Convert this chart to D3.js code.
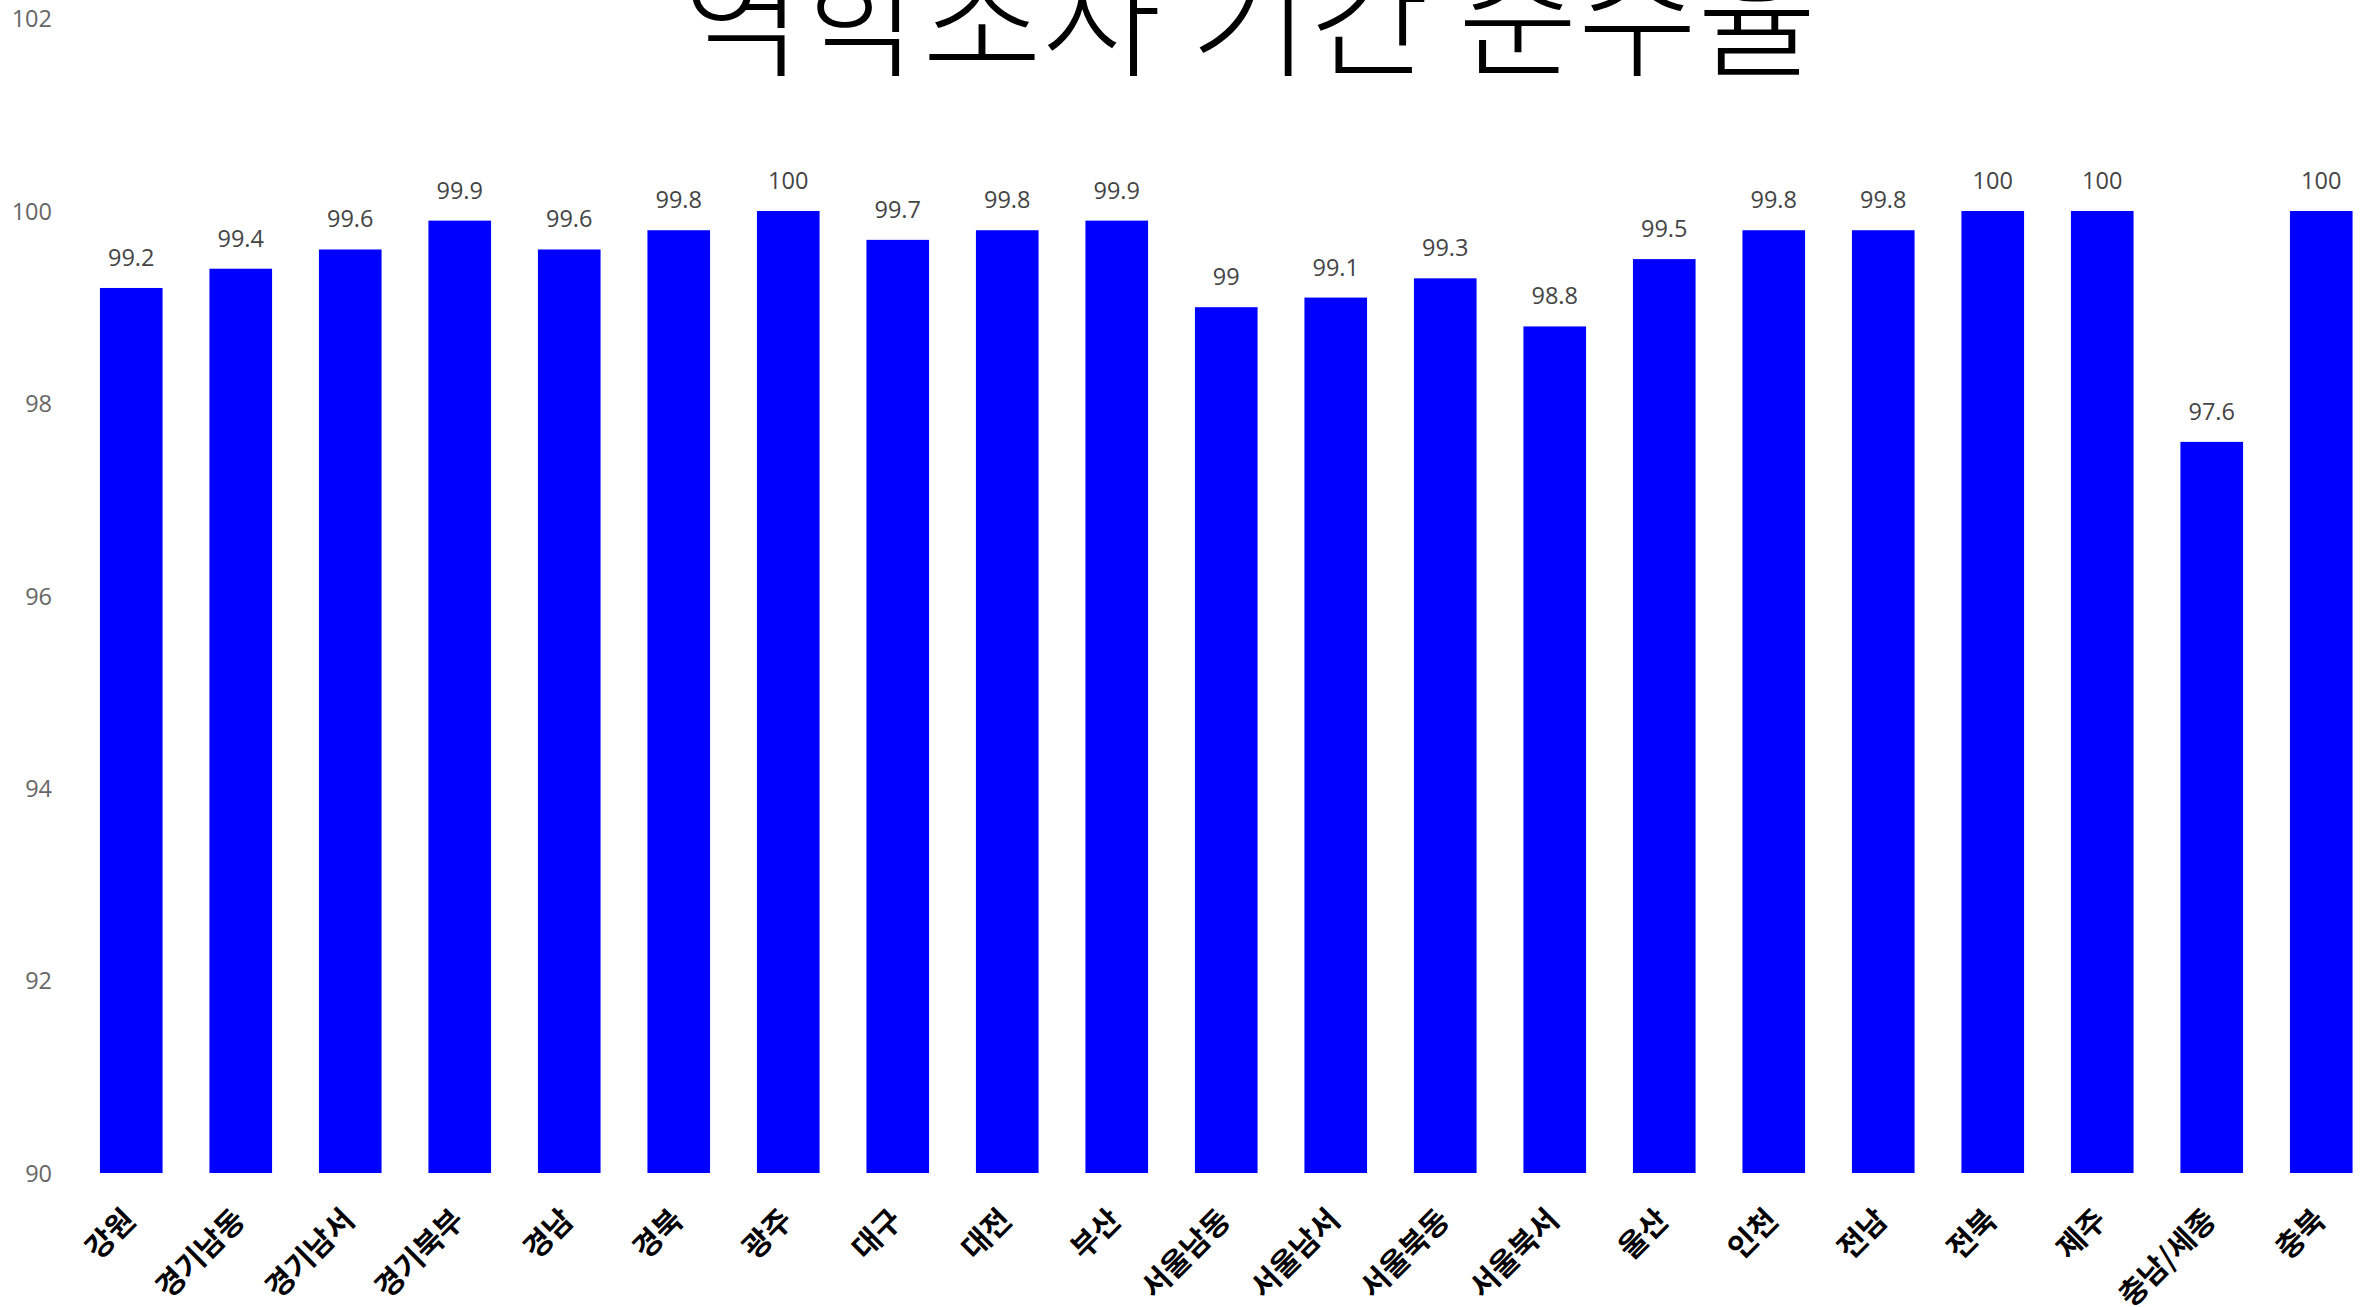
<!DOCTYPE html>
<html>
<head>
<meta charset="utf-8">
<script src="https://cdn.jsdelivr.net/npm/d3@7"></script>
<style>
  html, body { margin: 0; padding: 0; background: #ffffff; overflow: hidden; }
  svg { display: block; }
</style>
</head>
<body>
<svg id="chart" width="2376" height="1307"></svg>
<script>
const titleText = "역학조사 기간 준수율";
const categories = ["강원","경기남동","경기남서","경기북부","경남","경북","광주","대구","대전","부산","서울남동","서울남서","서울북동","서울북서","울산","인천","전남","전북","제주","충남/세종","충북"];
const values = [99.2, 99.4, 99.6, 99.9, 99.6, 99.8, 100, 99.7, 99.8, 99.9, 99, 99.1, 99.3, 98.8, 99.5, 99.8, 99.8, 100, 100, 97.6, 100];
const yTicks = [90, 92, 94, 96, 98, 100, 102];
const yDomain = [90, 102];

const svg = d3.select("#chart");
const plot = { left: 76.5, right: 2376, top: 18.6, bottom: 1173 };

const x = d3.scaleBand()
  .domain(categories)
  .range([plot.left, plot.right])
  .paddingInner(0.428)
  .paddingOuter(0.214);

const y = d3.scaleLinear()
  .domain(yDomain)
  .range([plot.bottom, plot.top]);

const data = categories.map((c, i) => ({ cat: c, val: values[i] }));

// Y axis (labels only)
const yAxis = d3.axisLeft(y).tickValues(yTicks).tickSize(0).tickPadding(0).tickFormat(d3.format("d"));
const gy = svg.append("g").attr("transform", "translate(52,0)").call(yAxis);
gy.select(".domain").remove();
gy.selectAll("text")
  .attr("fill", "#666666")
  .attr("font-family", "'Open Sans', 'Noto Sans', sans-serif")
  .attr("font-size", 23.5)
  .attr("dy", "0.35em");

// Bars
svg.append("g").selectAll("rect")
  .data(data)
  .join("rect")
  .attr("x", d => x(d.cat))
  .attr("y", d => y(d.val))
  .attr("width", x.bandwidth())
  .attr("height", d => y(yDomain[0]) - y(d.val))
  .attr("fill", "#0000ff");

// Value labels
svg.append("g").selectAll("text")
  .data(data)
  .join("text")
  .attr("x", d => x(d.cat) + x.bandwidth() / 2)
  .attr("y", d => y(d.val) - 22)
  .attr("text-anchor", "middle")
  .attr("fill", "#444444")
  .attr("font-family", "'Open Sans', 'Noto Sans', sans-serif")
  .attr("font-size", 23.5)
  .text(d => String(d.val));

// X axis (labels only, rotated)
const xAxis = d3.axisBottom(x).tickSize(0).tickPadding(0);
const gx = svg.append("g").attr("transform", `translate(0,${plot.bottom})`).call(xAxis);
gx.select(".domain").remove();
gx.selectAll(".tick text")
  .attr("fill", "#000000")
  .attr("font-family", "'Noto Sans CJK KR', 'Noto Sans', sans-serif")
  .attr("font-weight", "bold")
  .attr("font-size", 30)
  .attr("text-anchor", "end")
  .attr("dy", null)
  .attr("y", 0)
  .attr("transform", "translate(6,49) rotate(-45)");

// Title
svg.append("text")
  .attr("x", 1250)
  .attr("y", 66)
  .attr("text-anchor", "middle")
  .attr("fill", "#000000")
  .attr("font-family", "'Noto Sans CJK KR', sans-serif")
  .attr("font-weight", 300)
  .attr("font-size", 130)
  .text(titleText);
</script>
</body>
</html>
